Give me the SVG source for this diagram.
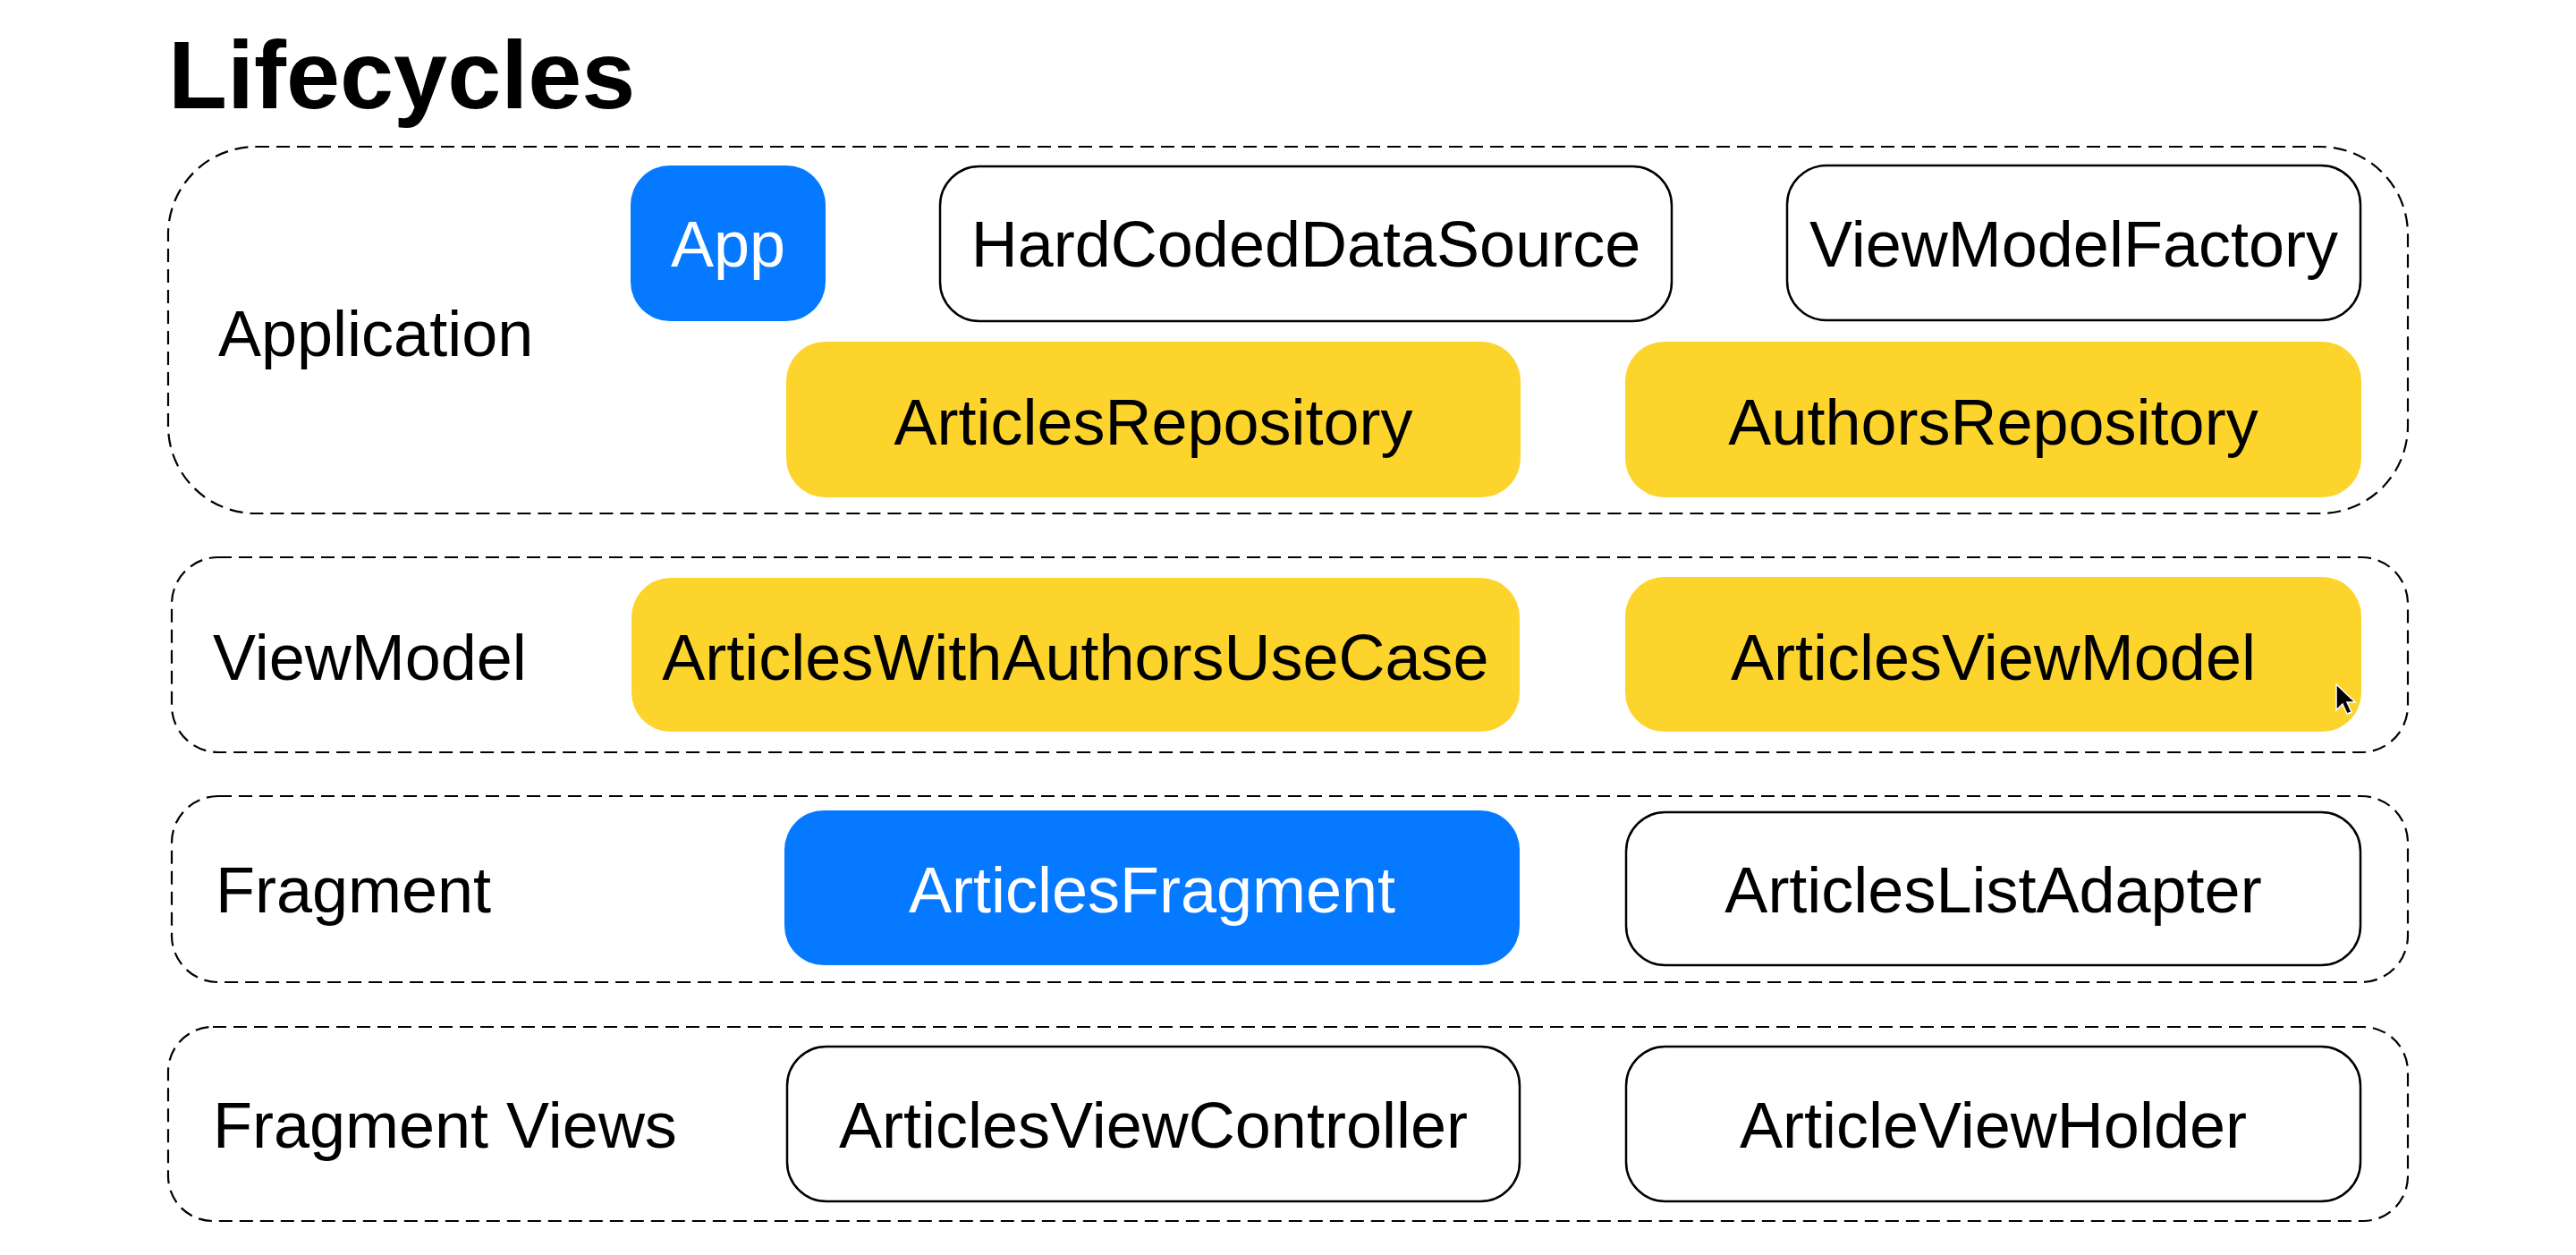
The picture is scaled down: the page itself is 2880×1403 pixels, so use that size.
<svg xmlns="http://www.w3.org/2000/svg" width="2880" height="1403" viewBox="0 0 2880 1403">
<style>
text{font-family:"Liberation Sans",Arial,sans-serif;font-size:72px;fill:#000}
.title{font-size:108px;font-weight:bold}
.lane{fill:none;stroke:#000;stroke-width:2.2;stroke-dasharray:15 8}
.white{fill:#fff;stroke:#000;stroke-width:2.5}
.yellow{fill:#FDD42C}
.blue{fill:#0579FF}
.ct{text-anchor:middle}
.wt{fill:#fff}
</style>
<rect width="2880" height="1403" fill="#fff"/>
<text id="title" class="title" x="188" y="121">Lifecycles</text>

<g id="lane-application">
<rect class="lane" x="188" y="164" width="2504" height="410" rx="98" ry="98"/>
<text x="244" y="398">Application</text>
</g>
<g id="lane-viewmodel">
<rect class="lane" x="192" y="623" width="2500" height="218" rx="52" ry="52"/>
<text x="238" y="760">ViewModel</text>
</g>
<g id="lane-fragment">
<rect class="lane" x="192" y="890" width="2500" height="208" rx="52" ry="52"/>
<text x="241" y="1020">Fragment</text>
</g>
<g id="lane-fragment-views">
<rect class="lane" x="188" y="1148" width="2504" height="217" rx="50" ry="50"/>
<text x="238" y="1283">Fragment Views</text>
</g>

<g id="node-app">
<rect class="blue" x="705" y="185" width="218" height="174" rx="44"/>
<text class="ct wt" x="814" y="298">App</text>
</g>
<g id="node-hardcodeddatasource">
<rect class="white" x="1051" y="186" width="818" height="173" rx="44"/>
<text class="ct" x="1460" y="298">HardCodedDataSource</text>
</g>
<g id="node-viewmodelfactory">
<rect class="white" x="1998" y="185" width="641" height="173" rx="44"/>
<text class="ct" x="2318.5" y="298">ViewModelFactory</text>
</g>
<g id="node-articlesrepository">
<rect class="yellow" x="879" y="382" width="821" height="174" rx="44"/>
<text class="ct" x="1289.5" y="497">ArticlesRepository</text>
</g>
<g id="node-authorsrepository">
<rect class="yellow" x="1817" y="382" width="823" height="174" rx="44"/>
<text class="ct" x="2228.5" y="497">AuthorsRepository</text>
</g>
<g id="node-articleswithauthorsusecase">
<rect class="yellow" x="706" y="646" width="993" height="172" rx="44"/>
<text class="ct" x="1202.5" y="760">ArticlesWithAuthorsUseCase</text>
</g>
<g id="node-articlesviewmodel">
<rect class="yellow" x="1817" y="645" width="823" height="173" rx="44"/>
<text class="ct" x="2228.5" y="760">ArticlesViewModel</text>
</g>
<g id="node-articlesfragment">
<rect class="blue" x="877" y="906" width="822" height="173" rx="44"/>
<text class="ct wt" x="1288" y="1020">ArticlesFragment</text>
</g>
<g id="node-articleslistadapter">
<rect class="white" x="1818" y="908" width="821" height="171" rx="44"/>
<text class="ct" x="2228.5" y="1020">ArticlesListAdapter</text>
</g>
<g id="node-articlesviewcontroller">
<rect class="white" x="880" y="1170" width="819" height="173" rx="44"/>
<text class="ct" x="1289.5" y="1283">ArticlesViewController</text>
</g>
<g id="node-articleviewholder">
<rect class="white" x="1818" y="1170" width="821" height="173" rx="44"/>
<text class="ct" x="2228.5" y="1283">ArticleViewHolder</text>
</g>

<g id="connectors"></g>

<path id="cursor" d="M2612 765 L2612 794 L2619 787 L2624 798 L2629 796 L2624 785 L2633 785 Z" fill="#000" stroke="#fff" stroke-width="1.5"/>
</svg>
